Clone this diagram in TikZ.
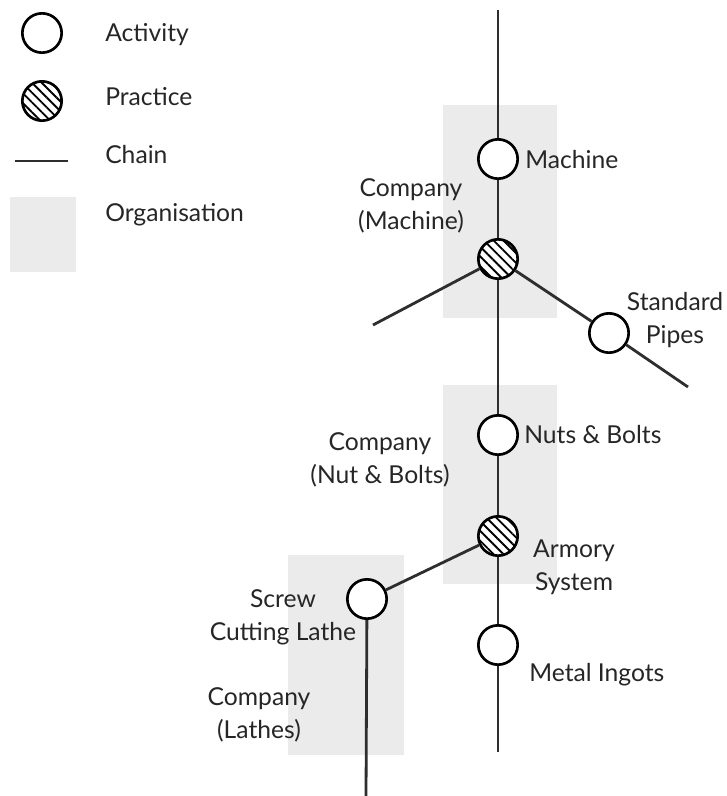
\documentclass[tikz,border=0pt]{standalone}
\usepackage{fontspec}
\setmainfont{Lato}
\usetikzlibrary{patterns.meta}
\definecolor{orggray}{HTML}{EBEBEB}
\definecolor{chaincol}{HTML}{2E2E2E}
\tikzset{
  activity/.style={circle, draw=black, line width=2pt, fill=white, minimum size=29.5pt, inner sep=0pt},
  practice/.style={circle, draw=black, line width=2pt, fill=white, minimum size=29.5pt, inner sep=0pt,
    postaction={pattern={Lines[angle=-45, distance=5.2pt, line width=1.4pt]}, pattern color=black}},
  chain/.style={draw=chaincol, line width=2.1pt},
  org/.style={fill=orggray, draw=none},
  lbl/.style={font=\fontsize{18.5}{24.5}\selectfont, text=black!85, inner sep=0pt, align=center},
}
\begin{document}
\begin{tikzpicture}[x=0.75pt, y=-0.75pt]
\useasboundingbox (0,0) rectangle (726,796);

% organisations
\fill[org] (443,105) rectangle (557,318);
\fill[org] (443,385) rectangle (557,584);
\fill[org] (288,555) rectangle (404,755);

% legend
\node[activity] (legAct) at (42,33) {};
\node[practice] (legPra) at (42,101) {};
\coordinate (legChA) at (15,161);
\coordinate (legChB) at (68,161);
\draw[chain] (legChA) -- (legChB);
\fill[org] (10,197) rectangle (76,272);
\node[lbl, anchor=west] (tAct) at (105,35) {Activity};
\node[lbl, anchor=west] (tPra) at (105,97) {Practice};
\node[lbl, anchor=west] (tCh) at (105,155) {Chain};
\node[lbl, anchor=west] (tOrg) at (105,215) {Organisation};

% chain nodes
\coordinate (top) at (498,10);
\node[activity] (machine) at (498,159) {};
\node[practice] (pr1) at (498,259) {};
\coordinate (leftEnd) at (373,325);
\node[activity] (pipes) at (609,333) {};
\coordinate (pipesEnd) at (688,387);
\node[activity] (nuts) at (498,435) {};
\node[practice] (pr2) at (498,536) {};
\node[activity] (lathe) at (367,599) {};
\coordinate (latheEnd) at (366,796);
\node[activity] (ingots) at (498,645) {};
\coordinate (bottom) at (498,752);

% chains
\draw[chain] (top) -- (machine);
\draw[chain] (machine) -- (pr1);
\draw[chain] (pr1) -- (nuts);
\draw[chain] (nuts) -- (pr2);
\draw[chain] (pr2) -- (ingots);
\draw[chain] (ingots) -- (bottom);
\draw[chain] (pr1) -- (leftEnd);
\draw[chain] (pr1) -- (pipes);
\draw[chain] (pipes) -- (pipesEnd);
\draw[chain] (pr2) -- (lathe);
\draw[chain] (lathe) -- (latheEnd);

% labels
\node[lbl, anchor=west] (tMachine) at (525,160) {Machine};
\node[lbl] (tCoMachine) at (411,206) {Company\\(Machine)};
\node[lbl] (tPipes) at (675,320) {Standard\\Pipes};
\node[lbl, anchor=west] (tNuts) at (524,435) {Nuts \& Bolts};
\node[lbl] (tCoNuts) at (380,460) {Company\\(Nut \& Bolts)};
\node[lbl] (tArmory) at (574,567) {Armory\\System};
\node[lbl] (tLathe) at (283,617) {Screw\\Cutting Lathe};
\node[lbl, anchor=west] (tIngots) at (529,675) {Metal Ingots};
\node[lbl] (tCoLathes) at (259,715) {Company\\(Lathes)};
\end{tikzpicture}
\end{document}
